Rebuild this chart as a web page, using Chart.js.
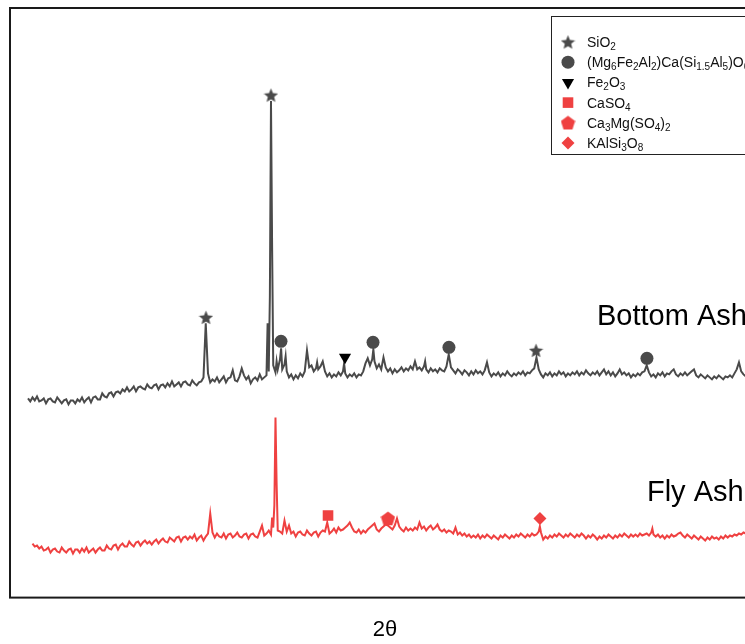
<!DOCTYPE html>
<html>
<head>
<meta charset="utf-8">
<title>XRD - Bottom Ash / Fly Ash</title>
<script src="https://cdn.jsdelivr.net/npm/chart.js@4/dist/chart.umd.min.js"></script>
<style>
  html, body { margin: 0; padding: 0; background: #fff; overflow: hidden; }
  #wrap { width: 770px; height: 644px; position: relative; }
</style>
</head>
<body>
<div id="wrap"><canvas id="xrd"></canvas></div>
<script>
// === Données (2θ en degrés, intensité en u.a.) ===
const bottomAsh = [
  [5.0,199],[5.2,196],[5.4,200],[5.6,197],[5.8,201],[6.0,196],[6.2,197],[6.4,199],[6.6,194],[6.8,198],
  [7.0,199],[7.2,196],[7.4,195],[7.6,200],[7.8,197],[8.0,194],[8.2,197],[8.4,198],[8.6,193],[8.8,197],
  [9.0,197],[9.2,194],[9.4,198],[9.6,196],[9.8,200],[10.0,195],[10.2,198],[10.4,200],[10.6,195],[10.8,200],
  [11.0,201],[11.2,198],[11.4,198],[11.6,204],[11.8,201],[12.0,200],[12.2,204],[12.4,205],[12.6,201],[12.8,205],
  [13.0,206],[13.2,204],[13.4,208],[13.6,206],[13.8,210],[14.0,206],[14.2,208],[14.4,211],[14.6,206],[14.8,210],
  [15.0,211],[15.2,209],[15.4,208],[15.6,213],[15.8,210],[16.0,209],[16.2,212],[16.4,213],[16.6,208],[16.8,212],
  [17.0,213],[17.2,210],[17.4,214],[17.6,211],[17.8,216],[18.0,211],[18.2,213],[18.4,215],[18.6,211],[18.8,215],
  [19.0,216],[19.2,213],[19.4,212],[19.6,217],[19.8,214],[20.0,212],[20.2,215],[20.4,216],[20.6,220],[20.8,274],
  [21.0,224],[21.2,215],[21.4,218],[21.6,216],[21.8,220],[22.0,215],[22.2,218],[22.4,221],[22.6,215],[22.8,219],
  [23.0,220],[23.2,227],[23.4,217],[23.6,216],[23.8,221],[24.0,229],[24.2,222],[24.4,218],[24.6,221],[24.8,214],
  [25.0,218],[25.2,220],[25.4,217],[25.6,223],[25.8,218],[26.0,220],[26.2,222],[26.3,274],[26.4,226],[26.5,300],
  [26.6,496],[26.7,350],[26.8,232],[27.0,225],[27.1,236],[27.2,228],[27.4,238],[27.5,249],[27.6,228],[27.8,233],
  [27.9,241],[28.0,226],[28.2,220],[28.4,223],[28.6,218],[28.8,222],[29.0,219],[29.2,224],[29.4,221],[29.6,226],
  [29.8,247],[30.0,230],[30.2,232],[30.4,226],[30.6,229],[30.7,235],[30.8,228],[31.0,231],[31.2,236],[31.4,226],
  [31.6,221],[31.8,224],[32.0,220],[32.2,223],[32.4,221],[32.6,225],[32.8,222],[33.0,226],[33.1,234],[33.2,224],
  [33.4,220],[33.6,223],[33.8,221],[34.0,224],[34.2,220],[34.4,223],[34.6,222],[34.8,226],[35.0,234],[35.2,239],
  [35.4,232],[35.6,238],[35.7,248],[35.8,236],[36.0,229],[36.2,233],[36.4,228],[36.6,240],[36.8,230],[37.0,226],
  [37.2,229],[37.4,224],[37.6,228],[37.8,225],[38.0,227],[38.2,230],[38.4,226],[38.6,229],[38.8,227],[39.0,231],
  [39.2,228],[39.4,236],[39.6,228],[39.8,230],[40.0,227],[40.2,231],[40.3,236],[40.4,228],[40.6,225],[40.8,229],
  [41.0,226],[41.2,228],[41.4,225],[41.6,229],[41.8,227],[42.0,226],[42.2,231],[42.4,243],[42.6,230],[42.8,227],
  [43.0,224],[43.2,228],[43.4,226],[43.6,223],[43.8,227],[44.0,225],[44.2,222],[44.4,226],[44.6,223],[44.8,227],
  [45.0,224],[45.2,226],[45.4,223],[45.6,227],[45.8,235],[46.0,225],[46.2,221],[46.4,224],[46.6,222],[46.8,225],
  [47.0,221],[47.2,224],[47.4,222],[47.6,226],[47.8,223],[48.0,221],[48.2,224],[48.4,222],[48.6,225],[48.8,223],
  [49.0,226],[49.2,222],[49.4,225],[49.6,224],[49.8,227],[50.0,229],[50.2,240],[50.4,228],[50.6,223],[50.8,220],
  [51.0,224],[51.2,222],[51.4,225],[51.6,221],[51.8,224],[52.0,222],[52.2,226],[52.4,223],[52.6,225],[52.8,221],
  [53.0,224],[53.2,222],[53.4,225],[53.6,223],[53.8,226],[54.0,222],[54.2,225],[54.4,223],[54.6,227],[54.8,224],
  [55.0,222],[55.2,225],[55.4,223],[55.6,226],[55.8,222],[56.0,225],[56.2,228],[56.4,223],[56.6,226],[56.8,222],
  [57.0,225],[57.2,221],[57.4,224],[57.6,228],[57.8,223],[58.0,225],[58.2,222],[58.4,224],[58.6,220],[58.8,223],
  [59.0,221],[59.2,224],[59.4,222],[59.6,225],[59.8,226],[60.0,232],[60.2,225],[60.4,221],[60.6,223],[60.8,220],
  [61.0,224],[61.2,222],[61.4,225],[61.6,221],[61.8,224],[62.0,223],[62.2,226],[62.4,228],[62.6,223],[62.8,221],
  [63.0,224],[63.2,222],[63.4,225],[63.6,222],[63.8,224],[64.0,226],[64.2,228],[64.4,222],[64.6,220],[64.8,223],
  [65.0,221],[65.2,219],[65.4,222],[65.6,220],[65.8,218],[66.0,221],[66.2,219],[66.4,222],[66.6,220],[66.8,218],
  [67.0,221],[67.2,220],[67.4,222],[67.6,220],[67.8,224],[68.0,228],[68.2,235],[68.4,226],[68.6,223],[68.8,221],
  [69.0,224],[69.2,222],[69.4,225],[69.6,223],[69.8,221],[70.0,224]
];

const flyAsh = [
  [5.4,54],[5.6,51],[5.8,52],[6.0,49],[6.2,51],[6.4,47],[6.6,48],[6.8,50],[7.0,45],[7.2,48],
  [7.4,49],[7.6,46],[7.8,45],[8.0,50],[8.2,47],[8.4,45],[8.6,48],[8.8,49],[9.0,44],[9.2,48],
  [9.4,48],[9.6,45],[9.8,49],[10.0,46],[10.2,50],[10.4,45],[10.6,47],[10.8,49],[11.0,45],[11.2,48],
  [11.4,50],[11.6,47],[11.8,47],[12.0,52],[12.2,49],[12.4,48],[12.6,52],[12.8,53],[13.0,48],[13.2,52],
  [13.4,54],[13.6,51],[13.8,51],[14.0,56],[14.2,53],[14.4,51],[14.6,55],[14.8,56],[15.0,52],[15.2,55],
  [15.4,57],[15.6,54],[15.8,56],[16.0,53],[16.2,56],[16.4,58],[16.6,54],[16.8,57],[17.0,59],[17.2,56],
  [17.4,55],[17.6,60],[17.8,58],[18.0,56],[18.2,60],[18.4,61],[18.6,56],[18.8,60],[19.0,61],[19.2,58],
  [19.4,61],[19.6,59],[19.8,63],[20.0,57],[20.2,60],[20.4,62],[20.6,57],[20.8,61],[21.0,64],[21.2,84],
  [21.4,65],[21.6,60],[21.8,64],[22.0,61],[22.2,60],[22.4,64],[22.6,59],[22.8,63],[23.0,64],[23.2,60],
  [23.4,62],[23.6,65],[23.8,61],[24.0,60],[24.2,63],[24.4,64],[24.6,59],[24.8,63],[25.0,64],[25.2,61],
  [25.4,60],[25.6,66],[25.8,72],[26.0,62],[26.2,64],[26.4,67],[26.6,63],[26.7,80],[26.8,70],[26.9,92],
  [27.0,180],[27.1,114],[27.2,67],[27.4,66],[27.6,64],[27.8,77],[28.0,66],[28.2,72],[28.4,64],[28.6,66],
  [28.8,61],[29.0,65],[29.2,66],[29.4,63],[29.6,62],[29.8,67],[30.0,64],[30.2,62],[30.4,65],[30.6,66],
  [30.8,61],[31.0,65],[31.2,67],[31.4,66],[31.6,75],[31.8,64],[32.0,66],[32.2,69],[32.4,65],[32.6,70],
  [32.8,67],[33.0,68],[33.2,70],[33.4,72],[33.6,75],[33.8,70],[34.0,66],[34.2,65],[34.4,68],[34.6,64],
  [34.8,67],[35.0,65],[35.2,68],[35.4,70],[35.6,72],[35.8,74],[36.0,68],[36.2,66],[36.4,69],[36.6,71],
  [36.8,73],[37.0,72],[37.2,70],[37.4,68],[37.6,72],[37.8,79],[38.0,71],[38.2,68],[38.4,66],[38.6,70],
  [38.8,67],[39.0,69],[39.2,67],[39.4,70],[39.6,68],[39.8,75],[40.0,69],[40.2,71],[40.4,67],[40.6,70],
  [40.8,72],[41.0,68],[41.2,70],[41.4,73],[41.6,68],[41.8,66],[42.0,68],[42.2,65],[42.4,67],[42.6,66],
  [42.8,64],[43.0,70],[43.2,63],[43.4,65],[43.6,62],[43.8,64],[44.0,61],[44.2,63],[44.4,60],[44.6,62],
  [44.8,60],[45.0,63],[45.2,59],[45.4,62],[45.6,60],[45.8,63],[46.0,61],[46.2,59],[46.4,62],[46.6,60],
  [46.8,58],[47.0,62],[47.2,60],[47.4,63],[47.6,61],[47.8,59],[48.0,62],[48.2,60],[48.4,63],[48.6,61],
  [48.8,64],[49.0,62],[49.2,60],[49.4,63],[49.6,61],[49.8,64],[50.0,62],[50.2,63],[50.4,66],[50.5,71],
  [50.6,65],[50.8,58],[51.0,61],[51.2,59],[51.4,62],[51.6,60],[51.8,63],[52.0,61],[52.2,64],[52.4,62],
  [52.6,60],[52.8,63],[53.0,61],[53.2,64],[53.4,62],[53.6,60],[53.8,63],[54.0,61],[54.2,64],[54.4,62],
  [54.6,59],[54.8,62],[55.0,60],[55.2,63],[55.4,61],[55.6,58],[55.8,61],[56.0,59],[56.2,62],[56.4,60],
  [56.6,63],[56.8,61],[57.0,59],[57.2,62],[57.4,60],[57.6,63],[57.8,61],[58.0,64],[58.2,62],[58.4,60],
  [58.6,63],[58.8,61],[59.0,63],[59.2,61],[59.4,64],[59.6,62],[59.8,63],[60.0,64],[60.2,62],[60.4,65],
  [60.5,69],[60.6,63],[60.8,61],[61.0,63],[61.2,60],[61.4,62],[61.6,59],[61.8,62],[62.0,60],[62.2,63],
  [62.4,61],[62.6,62],[62.8,64],[63.0,65],[63.2,62],[63.4,60],[63.6,63],[63.8,61],[64.0,59],[64.2,62],
  [64.4,60],[64.6,58],[64.8,61],[65.0,59],[65.2,57],[65.4,60],[65.6,58],[65.8,61],[66.0,59],[66.2,60],
  [66.4,58],[66.6,61],[66.8,59],[67.0,62],[67.2,60],[67.4,62],[67.6,61],[67.8,63],[68.0,62],[68.2,64],
  [68.4,63],[68.6,65],[68.8,64],[69.0,63],[69.2,65],[69.4,62],[69.6,64],[69.8,63],[70.0,65]
];

// === Phases identifiées (position du symbole au-dessus du pic) ===
const phaseNames = ["SiO_2", "(Mg_6Fe_2Al_2)Ca(Si_1.5Al_5)O_6", "Fe_2O_3", "CaSO_4", "Ca_3Mg(SO_4)_2", "KAlSi_3O_8"];
const quartzPeaks = [[20.82, 280], [26.6, 502], [50.16, 247]];
const augitePeaks = [[27.49, 256], [35.67, 255], [42.42, 250], [60.02, 239]];
const hematitePeaks = [[33.18, 240]];
const anhydritePeaks = [[31.67, 82]];
const langbeinitePeaks = [[37.0, 79]];
const feldsparPeaks = [[50.51, 79]];
const seriesNames = ["Bottom Ash", "Fly Ash"];

// === Couleurs ===
const gris = "#4a4a4a";
const rouge = "#ef4141";
const police = "Arial, 'Liberation Sans', sans-serif";

// === Symboles pleins (étoile, pentagone) ===
function symbole(branches, creux, taille, couleur) {
  const c = document.createElement("canvas");
  c.width = c.height = taille;
  const g = c.getContext("2d");
  const r = taille / 2;
  const n = creux ? branches * 2 : branches;
  g.fillStyle = couleur;
  g.beginPath();
  for (let i = 0; i < n; i++) {
    const a = -Math.PI / 2 + i * 2 * Math.PI / n;
    const rr = creux && i % 2 ? r * creux : r;
    g.lineTo(r + rr * Math.cos(a), r + rr * Math.sin(a) + (creux ? 0.8 : 0.6));
  }
  g.closePath();
  g.fill();
  return c;
}
const etoile = symbole(5, 0.45, 15, gris);
const pentagone = symbole(5, 0, 15, rouge);

const toXY = arr => arr.map(p => ({ x: p[0], y: p[1] }));

function phase(nom, pics, style, couleur, rayon, rotation) {
  return {
    type: "scatter",
    label: nom,
    phase: true,
    data: toXY(pics),
    pointStyle: style,
    pointRadius: rayon,
    pointHoverRadius: rayon,
    pointRotation: rotation || 0,
    backgroundColor: couleur,
    borderColor: couleur,
    pointBorderWidth: 0,
    order: 1
  };
}

// === Cadre, légende et noms des courbes ===
function formule(ctx, texte, x, y) {
  texte.split(/(_[0-9.]+)/).forEach(part => {
    if (!part) return;
    if (part[0] === "_") {
      ctx.font = "10px " + police;
      ctx.fillText(part.slice(1), x, y + 3);
      x += ctx.measureText(part.slice(1)).width;
    } else {
      ctx.font = "14px " + police;
      ctx.fillText(part, x, y);
      x += ctx.measureText(part).width;
    }
  });
}

const decor = {
  id: "decor",
  afterDatasetsDraw(chart) {
    const ctx = chart.ctx;
    const a = chart.chartArea;
    const sx = chart.scales.x, sy = chart.scales.y;
    ctx.save();

    // cadre
    ctx.strokeStyle = "#1a1a1a";
    ctx.lineWidth = 2;
    ctx.strokeRect(a.left, a.top, a.right - a.left, a.bottom - a.top);

    // noms des échantillons
    ctx.fillStyle = "#000";
    ctx.font = "29px " + police;
    ctx.textBaseline = "alphabetic";
    ctx.fillText(seriesNames[0], sx.getPixelForValue(55.58), sy.getPixelForValue(272));
    ctx.fillText(seriesNames[1], sx.getPixelForValue(60.02), sy.getPixelForValue(97));

    // légende
    const L = 551, T = 16, B = 154, R = 761;
    ctx.fillStyle = "#fff";
    ctx.fillRect(L, T, R - L, B - T);
    ctx.strokeStyle = "#222";
    ctx.lineWidth = 1;
    ctx.strokeRect(L + 0.5, T + 0.5, R - L, B - T);
    chart.data.datasets.filter(d => d.phase).forEach((d, i) => {
      const y = 42 + i * 20.2;
      ctx.fillStyle = d.backgroundColor;
      ctx.strokeStyle = d.borderColor;
      Chart.helpers.drawPoint(ctx, {
        pointStyle: d.pointStyle,
        radius: d.pointRadius,
        rotation: d.pointRotation,
        borderWidth: 0
      }, 568, y);
      ctx.fillStyle = "#111";
      formule(ctx, d.label, 587, y + 5);
    });
    ctx.restore();
  }
};

// === Graphique Chart.js ===
const ctx = document.getElementById("xrd").getContext("2d");
const chart = new Chart(ctx, {
  type: "line",
  data: {
    datasets: [
      phase(phaseNames[0], quartzPeaks, etoile, gris, 7),
      phase(phaseNames[1], augitePeaks, "circle", gris, 6.5),
      phase(phaseNames[2], hematitePeaks, "triangle", "#000", 7, 180),
      phase(phaseNames[3], anhydritePeaks, "rect", rouge, 7.5),
      phase(phaseNames[4], langbeinitePeaks, pentagone, rouge, 7),
      phase(phaseNames[5], feldsparPeaks, "rectRot", rouge, 6.5),
      {
        label: seriesNames[0],
        data: toXY(bottomAsh),
        borderColor: gris,
        borderWidth: 2,
        pointRadius: 0,
        tension: 0,
        order: 2
      },
      {
        label: seriesNames[1],
        data: toXY(flyAsh),
        borderColor: rouge,
        borderWidth: 2,
        pointRadius: 0,
        tension: 0,
        order: 2
      }
    ]
  },
  options: {
    responsive: true,
    maintainAspectRatio: false,
    animation: false,
    layout: { padding: { left: 10, top: 8, right: 10, bottom: 1 } },
    plugins: { legend: { display: false }, tooltip: { enabled: false } },
    scales: {
      x: {
        type: "linear",
        min: 3.4,
        max: 70.07,
        grid: { display: false },
        border: { display: false },
        ticks: { display: false },
        title: {
          display: true,
          text: "2θ",
          color: "#000",
          font: { family: police, size: 22 },
          padding: { top: 11, bottom: 0 }
        }
      },
      y: { display: false, min: 0, max: 589 }
    }
  },
  plugins: [decor]
});
</script>
</body>
</html>
